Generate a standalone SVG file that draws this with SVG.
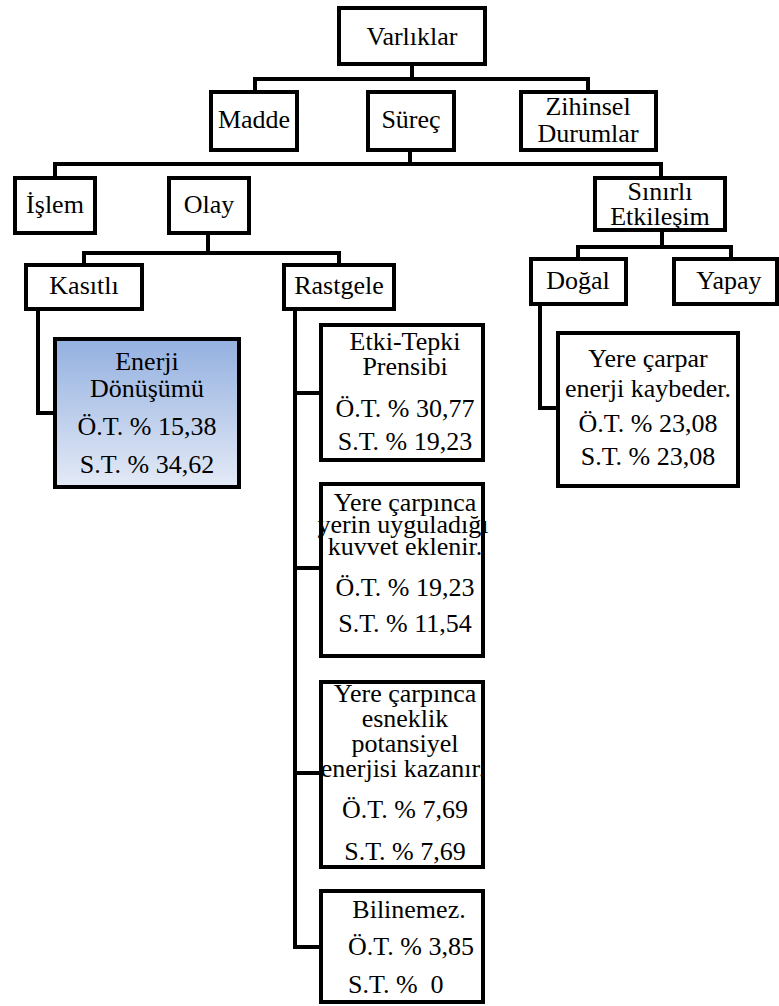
<svg xmlns="http://www.w3.org/2000/svg" width="779" height="1006" viewBox="0 0 779 1006">
  <style>
    .box { fill: #ffffff; stroke: #000000; stroke-width: 4; }
    .lbl { font-family: "Liberation Serif", "Times New Roman", serif; font-size: 26px; fill: #000000; text-anchor: middle; }
    .lft { text-anchor: start; }
    .wire { fill: none; stroke: #000000; stroke-width: 4; stroke-linejoin: miter; stroke-linecap: square; }
  </style>
  <defs>
    <linearGradient id="blueFade" x1="0" y1="0" x2="0" y2="1">
      <stop offset="0" stop-color="#93b0e0"/>
      <stop offset="1" stop-color="#e4eaf6"/>
    </linearGradient>
  </defs>
  <rect x="0" y="0" width="779" height="1006" fill="#ffffff"/>

  <!-- tree connectors -->
  <g id="connectors">
    <path class="wire" d="M412 66 V79 M255 90 V79 H588 V90"/>
    <path class="wire" d="M410 152 V164 M55 176 V164 H661 V176"/>
    <path class="wire" d="M208 233 V253 M84 263 V253 H339 V263"/>
    <path class="wire" d="M662 230 V247 M578 257 V247 H731 V257"/>
    <path class="wire" d="M38 311 V413 H53"/>
    <path class="wire" d="M295 311 V947 H319 M295 393 H319 M295 568 H319 M295 773 H319"/>
    <path class="wire" d="M540 306 V408 H556"/>
  </g>

  <g id="varliklar">
    <rect class="box" x="339" y="8" width="146" height="56"/>
    <text class="lbl" x="412" y="45">Varlıklar</text>
  </g>
  <g id="madde">
    <rect class="box" x="211" y="92" width="86" height="58"/>
    <text class="lbl" x="254" y="128">Madde</text>
  </g>
  <g id="surec">
    <rect class="box" x="368" y="92" width="86" height="58"/>
    <text class="lbl" x="411" y="128">Süreç</text>
  </g>
  <g id="zihinsel">
    <rect class="box" x="521" y="92" width="135" height="58"/>
    <text class="lbl" x="588" y="115">Zihinsel</text>
    <text class="lbl" x="588" y="142">Durumlar</text>
  </g>
  <g id="islem">
    <rect class="box" x="15" y="178" width="80" height="55"/>
    <text class="lbl" x="55" y="213">İşlem</text>
  </g>
  <g id="olay">
    <rect class="box" x="169" y="178" width="80" height="55"/>
    <text class="lbl" x="209" y="213">Olay</text>
  </g>
  <g id="sinirli">
    <rect class="box" x="595" y="178" width="130" height="52"/>
    <text class="lbl" x="660" y="200">Sınırlı</text>
    <text class="lbl" x="660" y="225">Etkileşim</text>
  </g>
  <g id="kasitli">
    <rect class="box" x="26" y="265" width="116" height="44"/>
    <text class="lbl" x="84" y="294">Kasıtlı</text>
  </g>
  <g id="rastgele">
    <rect class="box" x="284" y="265" width="110" height="44"/>
    <text class="lbl" x="339" y="294">Rastgele</text>
  </g>
  <g id="dogal">
    <rect class="box" x="531" y="259" width="95" height="45"/>
    <text class="lbl" x="578" y="289">Doğal</text>
  </g>
  <g id="yapay">
    <rect class="box" x="674" y="259" width="103" height="45"/>
    <text class="lbl" x="729" y="289">Yapay</text>
  </g>

  <g id="enerji-donusumu">
    <rect class="box" x="55" y="339" width="184" height="148" fill="url(#blueFade)" style="fill:url(#blueFade)"/>
    <text class="lbl" x="147" y="370">Enerji</text>
    <text class="lbl" x="147" y="397">Dönüşümü</text>
    <text class="lbl" x="147" y="435">Ö.T. % 15,38</text>
    <text class="lbl" x="147" y="473">S.T. % 34,62</text>
  </g>

  <g id="yere-carpar">
    <rect class="box" x="558" y="333" width="180" height="153"/>
    <text class="lbl" x="648" y="367">Yere çarpar</text>
    <text class="lbl" x="648" y="397">enerji kaybeder.</text>
    <text class="lbl" x="648" y="432">Ö.T. % 23,08</text>
    <text class="lbl" x="648" y="465">S.T. % 23,08</text>
  </g>

  <g id="etki-tepki">
    <rect class="box" x="321" y="325" width="162" height="135"/>
    <text class="lbl" x="405" y="350">Etki-Tepki</text>
    <text class="lbl" x="405" y="375">Prensibi</text>
    <text class="lbl" x="405" y="417">Ö.T. % 30,77</text>
    <text class="lbl" x="405" y="450">S.T. % 19,23</text>
  </g>

  <g id="yerin-kuvveti">
    <rect class="box" x="321" y="484" width="162" height="172"/>
    <text class="lbl" x="405" y="511">Yere çarpınca</text>
    <text class="lbl" x="403" y="533">yerin uyguladığı</text>
    <text class="lbl" x="405" y="555">kuvvet eklenir.</text>
    <text class="lbl" x="405" y="596">Ö.T. % 19,23</text>
    <text class="lbl" x="405" y="632">S.T. % 11,54</text>
  </g>

  <g id="esneklik">
    <rect class="box" x="321" y="682" width="162" height="185"/>
    <text class="lbl" x="405" y="702">Yere çarpınca</text>
    <text class="lbl" x="405" y="727">esneklik</text>
    <text class="lbl" x="405" y="752">potansiyel</text>
    <text class="lbl" x="403" y="777">enerjisi kazanır.</text>
    <text class="lbl" x="405" y="818">Ö.T. % 7,69</text>
    <text class="lbl" x="405" y="860">S.T. % 7,69</text>
  </g>

  <g id="bilinemez">
    <rect class="box" x="321" y="891" width="162" height="111"/>
    <text class="lbl" x="409" y="918">Bilinemez.</text>
    <text class="lbl lft" x="348" y="955">Ö.T. % 3,85</text>
    <text class="lbl lft" x="348" y="993" xml:space="preserve">S.T. %  0</text>
  </g>
</svg>
